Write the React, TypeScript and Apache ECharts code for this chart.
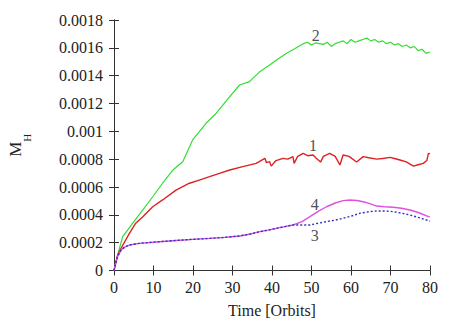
import React, { useEffect, useRef } from "react";
import * as echarts from "echarts";

const s1T = [0,0.9,1.8,3.9,5.5,7.3,9.8,12.3,15.7,19.1,21.6,24.2,26.7,29.3,32.6,36,38.2,38.6,39.4,39.8,41,42.8,44,45.3,45.6,46.5,47.9,49,50.4,51.2,52.3,53,54.6,56,57.2,58,59.5,61.4,63.1,64.5,66.5,68,69.9,71,72.4,74,75.8,77,78.3,79.2,79.6,80];
const s1V = [0,0.00011,0.00016,0.000267,0.00034,0.000387,0.000458,0.000507,0.000578,0.000627,0.00065,0.000674,0.000698,0.000722,0.000746,0.00077,0.000806,0.000775,0.000782,0.00075,0.00079,0.000806,0.0008,0.000818,0.00077,0.00082,0.000842,0.000825,0.00083,0.000806,0.000779,0.00082,0.000842,0.00082,0.000758,0.00083,0.00082,0.00078,0.000818,0.00081,0.0008,0.000805,0.000813,0.000805,0.000794,0.00078,0.00075,0.00076,0.00077,0.00079,0.000842,0.00084];

const s2T = [0,0.5,1,2.2,4.7,7.3,9.8,12.3,14.9,17.4,19.9,23.3,25.9,29.3,31.8,34.3,36.9,39.4,41.5,43.6,45.5,47.9,49,50,51,52,53,54,55,56,57,58,59,60,61,62,63,64,65,66,67,68,69,70,71,72,73,74,75,76,77,78,79,80];
const s2V = [0,0.00006,0.00012,0.000243,0.000339,0.000435,0.00053,0.000627,0.000722,0.000782,0.000938,0.001058,0.00113,0.001249,0.001333,0.001357,0.001429,0.001477,0.00152,0.00156,0.00159,0.00163,0.00164,0.00162,0.001635,0.00163,0.001625,0.00164,0.00161,0.00163,0.00164,0.00165,0.00163,0.00166,0.00164,0.00165,0.00166,0.00167,0.00165,0.00166,0.00164,0.00165,0.00163,0.00164,0.00162,0.00163,0.00161,0.00162,0.0016,0.00161,0.00158,0.00159,0.00156,0.00157];

const s3T = [0,0.4,0.9,1.8,2.8,3.9,6.4,11.5,15.7,20,24.2,28,31.8,34.5,36.9,39,41.1,43.2,45.3,47.5,49.6,51.7,53.8,56,58,60,62.2,64.5,66.5,68.5,70.7,72.8,74.9,77.2,79.6,80];
const s3V = [0,0.00005,0.0001,0.000147,0.00017,0.000183,0.000195,0.000207,0.000216,0.000224,0.000231,0.000238,0.000248,0.000262,0.000279,0.00029,0.000303,0.000315,0.000327,0.000327,0.000327,0.00034,0.000351,0.000362,0.000375,0.00039,0.000411,0.000422,0.000428,0.000428,0.000423,0.000412,0.000399,0.00038,0.000358,0.000355];

const s4T = [0,0.4,0.9,1.8,2.8,3.9,6.4,11.5,15.7,20,24.2,28,31.8,34.5,36.9,39,41.1,43.2,45.3,47.5,49.6,51.7,53.8,56,58,59.7,61.5,63.1,64.8,66.5,68.5,70.7,72.8,74.9,77.2,79.6,80];
const s4V = [0,0.00005,0.0001,0.000147,0.00017,0.000183,0.000195,0.000207,0.000216,0.000224,0.000231,0.000238,0.000248,0.000262,0.000279,0.00029,0.000303,0.000315,0.000327,0.00035,0.000387,0.000425,0.000458,0.000485,0.000502,0.000507,0.000503,0.000494,0.00048,0.000463,0.000458,0.000454,0.000447,0.000435,0.000415,0.000387,0.000385];

const curveNames = ["1", "2", "3", "4"];
const curveLabelT = [50.4, 51.1, 50.8, 50.8];
const curveLabelV = [0.000895, 0.001692, 0.000255, 0.000471];

const xTickLabels = ["0", "10", "20", "30", "40", "50", "60", "70", "80"];
const yTickLabels = ["0", "0.0002", "0.0004", "0.0006", "0.0008", "0.001", "0.0012", "0.0014", "0.0016", "0.0018"];

const FONT = "Liberation Serif";
const zip = (t: number[], v: number[]) => t.map((x, i) => [x, v[i]]);

export default function App() {
  const ref = useRef<HTMLDivElement>(null);
  useEffect(() => {
    if (!ref.current) return;
    const chart = echarts.init(ref.current, null, { renderer: "svg" });
    const axisLine = { show: true, lineStyle: { color: "#333", width: 1 } };
    const tick = { show: true, inside: true, length: 5, lineStyle: { color: "#333" } };
    const label = { fontFamily: FONT, fontSize: 16, color: "#222" };
    chart.setOption({
      animation: false,
      backgroundColor: "#fff",
      grid: { left: 114, right: 28, top: 20, bottom: 50.5, show: false, containLabel: false, outerBoundsMode: "none" },
      xAxis: [
        {
          type: "value", min: 0, max: 80, interval: 10, position: "bottom",
          axisLine, axisTick: tick, splitLine: { show: false },
          axisLabel: { ...label, margin: 9, formatter: (v: number) => xTickLabels[Math.round(v / 10)] ?? "" },
          name: "Time [Orbits]", nameLocation: "middle", nameGap: 32,
          nameTextStyle: { fontFamily: FONT, fontSize: 16, color: "#222" },
        },
        {
          type: "value", min: 0, max: 80, interval: 10, position: "top",
          axisLine, axisTick: tick, splitLine: { show: false }, axisLabel: { show: false },
        },
      ],
      yAxis: [
        {
          type: "value", min: 0, max: 0.0018, interval: 0.0002, position: "left",
          axisLine, axisTick: tick, splitLine: { show: false },
          axisLabel: { ...label, margin: 11, formatter: (v: number) => yTickLabels[Math.round(v / 0.0002)] ?? "" },
          name: "{m|M}{h|H}", nameLocation: "middle", nameRotate: 90, nameGap: 90,
          nameTextStyle: {
            fontFamily: FONT, color: "#222",
            rich: {
              m: { fontFamily: FONT, fontSize: 17, color: "#222", lineHeight: 22, verticalAlign: "bottom" },
              h: { fontFamily: FONT, fontSize: 11, color: "#222", lineHeight: 22, verticalAlign: "bottom", padding: [0, 0, -8, 0] },
            },
          },
        },
        {
          type: "value", min: 0, max: 0.0018, interval: 0.0002, position: "right",
          axisLine, axisTick: tick, splitLine: { show: false }, axisLabel: { show: false },
        },
      ],
      series: [
        {
          type: "line", name: "2", data: zip(s2T, s2V), showSymbol: false, symbol: "none",
          lineStyle: { color: "#33dd33", width: 1.2 }, z: 2,
        },
        {
          type: "line", name: "1", data: zip(s1T, s1V), showSymbol: false, symbol: "none",
          lineStyle: { color: "#dd2222", width: 1.4 }, z: 3,
        },
        {
          type: "line", name: "4", data: zip(s4T, s4V), showSymbol: false, symbol: "none",
          lineStyle: { color: "#e050e0", width: 1.4 }, z: 3,
        },
        {
          type: "line", name: "3", data: zip(s3T, s3V), showSymbol: false, symbol: "none",
          lineStyle: { color: "#3030c0", width: 1.4, type: [2, 2] }, z: 4,
        },
        {
          type: "scatter", symbolSize: 0, silent: true, z: 5,
          data: curveNames.map((n, i) => ({ name: n, value: [curveLabelT[i], curveLabelV[i]] })),
          label: {
            show: true, position: "inside", formatter: (p: any) => p.name,
            fontFamily: FONT, fontSize: 16, color: "#222",
          },
        },
      ],
    });
    return () => chart.dispose();
  }, []);
  return <div ref={ref} style={{ position: "absolute", left: 0, top: 0, width: 458, height: 321 }} />;
}
